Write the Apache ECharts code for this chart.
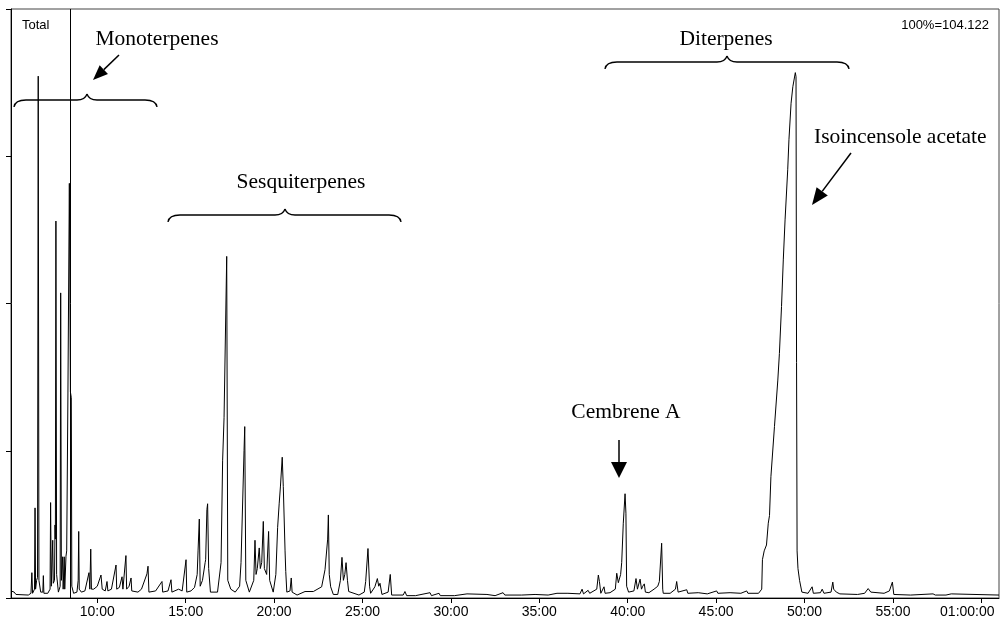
<!DOCTYPE html>
<html>
<head>
<meta charset="utf-8">
<script src="https://cdn.jsdelivr.net/npm/echarts@6/dist/echarts.min.js"></script>
<style>
html, body { margin: 0; padding: 0; background: #fff; }
#main { width: 1002px; height: 622px; }
</style>
</head>
<body>
<div id="main"></div>
<script>
// retention time (min), relative abundance (%)
var monoterpenes = [
  [5.12, 1.2], [5.30, 1.0], [5.40, 0.6], [6.10, 0.5], [6.25, 0.8], [6.30, 4.3], [6.34, 0.8],
  [6.45, 1.5], [6.48, 15.3], [6.51, 1.5], [6.57, 3.0], [6.62, 3.5], [6.66, 88.6], [6.70, 3.0],
  [6.80, 1.0], [6.92, 1.0], [6.95, 3.8], [6.98, 0.8], [7.20, 0.8], [7.33, 1.5], [7.36, 16.2],
  [7.40, 2.0], [7.46, 2.0], [7.48, 9.8], [7.51, 2.5], [7.58, 3.0], [7.61, 12.4], [7.63, 10.0],
  [7.66, 64.0], [7.70, 4.0], [7.80, 1.0], [7.90, 2.0], [7.93, 51.8], [7.97, 3.0], [8.04, 7.0],
  [8.07, 1.5], [8.13, 7.0], [8.16, 1.5], [8.23, 7.1], [8.27, 8.0], [8.34, 34.8], [8.42, 70.4],
  [8.48, 35.0], [8.53, 34.0], [8.56, 2.0], [8.66, 0.8], [8.85, 1.0], [8.92, 3.0], [8.95, 11.3],
  [8.98, 1.5], [9.10, 1.0], [9.30, 1.2], [9.53, 4.3], [9.58, 1.5], [9.63, 8.3], [9.67, 1.5],
  [9.80, 1.5], [10.00, 2.0], [10.21, 3.9], [10.28, 1.5], [10.45, 1.2], [10.55, 2.8], [10.60, 1.2],
  [10.80, 1.5], [11.06, 5.6], [11.10, 1.5], [11.25, 1.8], [11.40, 3.6], [11.45, 1.5], [11.62, 7.2],
  [11.66, 1.5], [11.80, 2.0], [11.91, 3.4], [11.95, 1.2], [12.30, 1.0], [12.50, 1.5], [12.81, 4.1],
  [12.87, 5.4], [12.92, 1.0], [13.30, 1.2], [13.66, 2.8], [13.70, 1.0], [14.00, 1.2], [14.17, 3.1],
  [14.22, 1.0], [14.60, 1.5], [14.80, 1.2]
];
var sesquiterpenes = [
  [15.02, 6.5], [15.06, 1.0], [15.30, 1.2], [15.50, 1.8], [15.65, 4.0], [15.70, 8.0], [15.77, 13.4],
  [15.82, 2.0], [15.95, 3.0], [16.10, 6.0], [16.13, 6.5], [16.20, 15.0], [16.24, 16.0], [16.30, 5.0],
  [16.40, 1.0], [16.80, 1.0], [17.00, 6.0], [17.09, 23.4], [17.17, 30.6], [17.32, 58.0], [17.38, 3.0],
  [17.55, 1.5], [17.80, 1.0], [18.05, 2.0], [18.13, 6.0], [18.30, 25.0], [18.34, 29.1], [18.40, 3.0],
  [18.60, 1.0], [18.85, 3.0], [18.92, 9.8], [18.98, 4.0], [19.05, 5.0], [19.16, 8.5], [19.22, 5.0],
  [19.30, 6.0], [19.39, 13.0], [19.45, 5.0], [19.58, 4.0], [19.69, 11.3], [19.75, 3.0], [19.95, 1.0],
  [20.10, 4.0], [20.20, 12.0], [20.29, 16.1], [20.36, 19.0], [20.46, 23.9], [20.52, 18.9], [20.56, 19.2],
  [20.62, 8.0], [20.66, 4.5], [20.72, 1.0], [20.90, 1.2], [20.97, 3.4], [21.02, 1.0], [21.30, 0.5],
  [21.75, 1.1], [22.22, 1.1], [22.69, 1.9], [22.88, 4.8], [23.03, 10.0], [23.07, 14.1], [23.12, 4.0],
  [23.20, 1.9], [23.35, 0.6], [23.60, 0.6], [23.75, 3.0], [23.84, 6.9], [23.92, 3.0], [24.00, 4.0],
  [24.07, 6.0], [24.15, 3.0], [24.22, 1.1], [24.80, 0.5], [25.10, 1.0], [25.18, 2.8], [25.31, 8.4],
  [25.40, 2.0], [25.46, 0.8], [25.70, 1.9], [25.84, 3.3], [25.92, 2.0], [25.99, 2.5], [26.10, 0.6],
  [26.45, 1.0], [26.57, 4.0], [26.65, 0.5], [27.30, 0.5], [27.40, 1.1], [27.50, 0.4]
];
var midRun = [
  [28.00, 0.4], [28.82, 0.9], [28.90, 0.4], [29.33, 0.8], [29.40, 0.4], [30.20, 0.4], [30.91, 0.7],
  [31.00, 0.4], [32.04, 0.6], [32.50, 0.4], [32.95, 0.9], [33.05, 0.5], [34.00, 0.5], [34.76, 0.6],
  [35.50, 0.5], [36.00, 0.8], [36.10, 0.5], [36.62, 0.8], [36.70, 0.6], [37.30, 0.7], [37.42, 1.5],
  [37.50, 0.7], [37.76, 1.3], [37.85, 0.8]
];
var diterpenes = [
  [38.25, 1.5], [38.34, 3.9], [38.40, 2.8], [38.48, 0.8], [38.58, 0.8], [38.66, 1.9], [38.72, 0.8],
  [39.00, 0.9], [39.30, 1.5], [39.38, 4.2], [39.47, 2.6], [39.60, 4.0], [39.66, 6.0], [39.75, 12.7],
  [39.85, 17.7], [39.90, 14.4], [39.94, 2.0], [40.05, 1.0], [40.35, 1.2], [40.47, 3.3], [40.55, 1.5],
  [40.62, 1.8], [40.70, 3.2], [40.78, 1.5], [40.85, 2.0], [40.94, 2.4], [41.00, 1.0], [41.20, 0.9],
  [41.49, 1.5], [41.70, 2.0], [41.79, 2.8], [41.92, 9.3], [41.98, 1.5], [42.01, 0.8], [42.40, 0.8],
  [42.70, 1.5], [42.77, 2.8], [42.85, 1.0], [43.34, 1.4], [43.40, 0.8], [43.99, 0.9], [44.50, 0.7],
  [45.03, 1.2], [45.10, 0.8], [45.79, 0.9], [46.40, 0.8], [46.73, 1.2], [46.80, 0.8], [47.40, 0.8],
  [47.58, 1.5], [47.62, 6.5], [47.72, 8.0], [47.85, 9.0], [47.95, 12.7], [48.02, 14.0], [48.10, 20.6],
  [48.30, 29.1], [48.49, 37.0], [48.58, 41.5], [48.70, 49.5], [48.80, 57.4], [48.90, 64.2], [49.05, 72.7],
  [49.12, 77.8], [49.24, 84.0], [49.34, 86.8], [49.48, 89.2], [49.52, 88.5], [49.55, 40.0], [49.58, 8.0],
  [49.63, 5.0], [49.72, 3.0], [49.85, 1.0], [50.20, 0.8], [50.43, 1.9], [50.50, 0.8], [50.90, 0.9],
  [51.00, 1.5], [51.10, 0.8], [51.50, 1.0], [51.60, 2.7], [51.65, 1.5], [51.80, 1.0], [52.00, 0.7]
];
var tailRun = [
  [53.00, 0.6], [53.40, 0.8], [53.60, 1.6], [53.75, 1.0], [54.50, 0.8], [54.80, 1.2], [54.97, 2.7],
  [55.05, 0.6], [56.00, 0.5], [57.27, 0.7], [57.40, 0.5], [58.00, 0.5], [58.30, 0.7], [58.40, 0.5],
  [61.00, 0.5]
];
var tickMinutes = [10, 15, 20, 25, 30, 35, 40, 45, 50, 55, 60];
var cursorAt = 8.46;
var traceName = 'Total';
var scaleNote = '100%=104.122';

var trace = monoterpenes.concat(sesquiterpenes, midRun, diterpenes, tailRun);

var myChart = echarts.init(document.getElementById('main'));

// curly brace made of quadratic curves and straight lines
function brace(x1, x2, y, xm) {
  var st = { stroke: '#000', lineWidth: 1.3, fill: null };
  function q(ax, ay, cx, cy, bx, by) {
    return { type: 'bezierCurve', shape: { x1: ax, y1: ay, x2: bx, y2: by, cpx1: cx, cpy1: cy }, style: st };
  }
  function l(ax, ay, bx, by) {
    return { type: 'line', shape: { x1: ax, y1: ay, x2: bx, y2: by }, style: st };
  }
  return [
    q(x1, y + 7, x1 + 1, y, x1 + 12, y),
    l(x1 + 12, y, xm - 10, y),
    q(xm - 10, y, xm - 2, y, xm, y - 6),
    q(xm, y - 6, xm + 2, y, xm + 10, y),
    l(xm + 10, y, x2 - 12, y),
    q(x2 - 12, y, x2 - 1, y, x2, y + 7)
  ];
}

function arrow(x1, y1, x2, y2, len, hw) {
  var dx = x2 - x1, dy = y2 - y1;
  var d = Math.sqrt(dx * dx + dy * dy);
  var ux = dx / d, uy = dy / d;
  var bx = x2 - ux * len, by = y2 - uy * len;
  return [
    { type: 'line', shape: { x1: x1, y1: y1, x2: bx, y2: by }, style: { stroke: '#000', lineWidth: 1.5 } },
    { type: 'polygon', shape: { points: [[x2, y2], [bx - uy * hw, by + ux * hw], [bx + uy * hw, by - ux * hw]] },
      style: { fill: '#000' } }
  ];
}

function label(text, x, y, align) {
  return {
    type: 'text', x: x, y: y,
    style: { text: text, fill: '#000', font: '21.5px "Liberation Serif", serif', align: align || 'center', verticalAlign: 'middle' }
  };
}

var graphics = [].concat(
  brace(14, 157, 100, 87),
  brace(168, 401, 215, 285),
  brace(605, 849, 62, 727),
  arrow(119, 55, 93, 80, 15, 6),
  arrow(851, 153, 812, 205, 17, 7),
  arrow(619, 440, 619, 478, 16, 8),
  [
    label('Monoterpenes', 157, 39),
    label('Sesquiterpenes', 301, 182),
    label('Diterpenes', 726, 39),
    label('Isoincensole acetate', 814, 137, 'left'),
    label('Cembrene A', 626, 412),
    { type: 'text', x: 22, y: 25,
      style: { text: traceName, fill: '#000', font: '13px "Liberation Sans", Arial, sans-serif', verticalAlign: 'middle' } },
    { type: 'text', x: 989, y: 25,
      style: { text: scaleNote, fill: '#000', font: '13px "Liberation Sans", Arial, sans-serif', align: 'right', verticalAlign: 'middle' } }
  ]
);

var option = {
  animation: false,
  backgroundColor: '#fff',
  grid: {
    left: 11, right: 3, top: 9, bottom: 24,
    outerBoundsMode: 'none',
    containLabel: false,
    show: true, borderColor: '#444', borderWidth: 1
  },
  xAxis: {
    type: 'value',
    min: 5.12,
    max: 61.0,
    axisLine: { show: true, lineStyle: { color: '#000', width: 1 } },
    axisTick: { show: true, length: 5, customValues: tickMinutes, lineStyle: { color: '#000' } },
    axisLabel: {
      customValues: tickMinutes,
      color: '#000',
      fontSize: 14,
      fontFamily: '"Liberation Sans", Arial, sans-serif',
      margin: 7,
      hideOverlap: false,
      formatter: function (v) { return v >= 60 ? '{last|01:00:00}' : v + ':00'; },
      rich: {
        last: {
          color: '#000',
          fontSize: 14,
          fontFamily: '"Liberation Sans", Arial, sans-serif',
          padding: [0, 28, 0, 0]
        }
      }
    },
    splitLine: { show: false }
  },
  yAxis: {
    type: 'value',
    min: 0,
    max: 100,
    interval: 25,
    axisLine: { show: true, lineStyle: { color: '#000', width: 1 } },
    axisTick: { show: true, length: 5, lineStyle: { color: '#000' } },
    axisLabel: { show: false },
    splitLine: { show: false }
  },
  series: [
    {
      name: traceName,
      type: 'line',
      data: trace,
      symbol: 'none',
      lineStyle: { color: '#000', width: 1 },
      markLine: {
        silent: true,
        symbol: 'none',
        label: { show: false },
        lineStyle: { color: '#000', width: 1, type: 'solid' },
        data: [{ xAxis: cursorAt }]
      }
    }
  ],
  graphic: graphics
};
myChart.setOption(option);
</script>
</body>
</html>
